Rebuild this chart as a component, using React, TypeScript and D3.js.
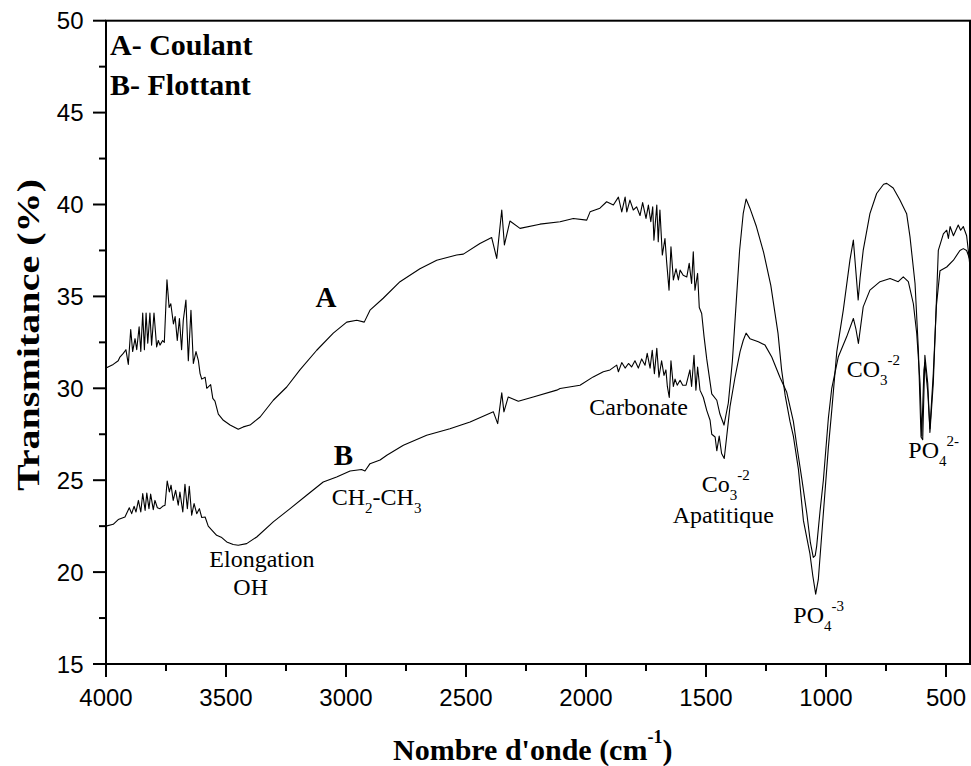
import React from "react";
import * as d3 from "d3";

// ---- Axis ticks ----
const xTicks = [4000, 3500, 3000, 2500, 2000, 1500, 1000, 500];
const xMinorTicks = [3750, 3250, 2750, 2250, 1750, 1250, 750];
const yTicks = [15, 20, 25, 30, 35, 40, 45, 50];
const yMinorTicks = [17.5, 22.5, 27.5, 32.5, 37.5, 42.5, 47.5];

// ---- Spectrum A (Coulant): [wavenumber cm-1, transmittance %] ----
const curveA: [number, number][] = [
  [4000, 31.1], [3970, 31.3], [3949, 31.5], [3942, 31.7], [3928, 31.9], [3917, 32.1],
  [3907, 31.3], [3897, 33.2], [3889, 32.0], [3879, 32.7], [3872, 32.1], [3862, 33.35],
  [3855, 32.0], [3847, 34.1], [3840, 32.1], [3833, 34.1], [3826, 32.45], [3817, 34.1],
  [3810, 32.35], [3800, 34.1], [3789, 32.25], [3782, 32.6], [3775, 32.35], [3764, 32.6],
  [3757, 32.5], [3746, 35.9], [3737, 34.4], [3730, 34.6], [3719, 33.5], [3712, 33.9],
  [3703, 32.6], [3694, 33.8], [3685, 32.1], [3678, 33.7], [3667, 34.8], [3657, 31.5],
  [3646, 34.25], [3636, 31.35], [3625, 32.0], [3615, 31.5], [3608, 30.8], [3601, 30.5],
  [3587, 30.6], [3580, 30.0], [3564, 30.2], [3555, 29.45], [3546, 29.3], [3532, 28.6],
  [3511, 28.26], [3483, 28.0], [3449, 27.77], [3428, 27.9], [3400, 28.0], [3358, 28.44],
  [3303, 29.35], [3247, 30.07], [3192, 31.0], [3122, 32.07], [3053, 33.0], [2997, 33.6],
  [2955, 33.7], [2924, 33.6], [2900, 34.25], [2845, 34.9], [2775, 35.8], [2692, 36.5],
  [2622, 36.97], [2539, 37.25], [2511, 37.3], [2442, 37.88], [2393, 38.2], [2372, 37.07],
  [2351, 39.7], [2340, 37.8], [2317, 39.1], [2275, 38.7], [2192, 38.93], [2108, 39.06],
  [2053, 39.24], [1997, 39.15], [1983, 39.6], [1942, 39.8], [1914, 40.15], [1886, 39.97],
  [1865, 40.4], [1851, 39.6], [1837, 40.4], [1830, 39.6], [1817, 40.24], [1803, 39.7],
  [1789, 39.87], [1775, 39.4], [1764, 40.1], [1750, 39.24], [1740, 39.97], [1730, 39.06],
  [1722, 39.87], [1717, 38.06], [1705, 39.97], [1699, 37.97], [1692, 39.7], [1682, 37.25],
  [1671, 38.15], [1664, 36.88], [1654, 35.34], [1646, 37.7], [1636, 35.9], [1625, 36.5],
  [1615, 35.9], [1608, 36.43], [1595, 36.15], [1580, 36.06], [1570, 36.8], [1560, 35.7],
  [1553, 37.43], [1546, 35.34], [1535, 36.25], [1528, 34.4], [1518, 34.07], [1508, 32.8],
  [1497, 31.6], [1476, 29.7], [1455, 29.35], [1442, 28.6], [1425, 28.0], [1407, 29.2],
  [1390, 31.5], [1375, 34.5], [1360, 37.5], [1345, 39.5], [1333, 40.3], [1317, 39.8],
  [1290, 38.8], [1260, 37.4], [1230, 35.6], [1200, 33.0], [1185, 31.0], [1170, 29.6],
  [1150, 28.2], [1136, 27.4], [1115, 25.6], [1094, 22.8], [1067, 21.0], [1055, 19.8],
  [1043, 18.8], [1032, 19.6], [1011, 23.2], [990, 26.8], [976, 28.8], [955, 32.0],
  [928, 34.25], [900, 37.0], [886, 38.06], [877, 36.6], [866, 34.8], [858, 36.0],
  [845, 37.5], [817, 39.5], [789, 40.6], [760, 41.1], [747, 41.15], [720, 40.9],
  [692, 40.24], [664, 39.5], [650, 38.24], [629, 35.7], [615, 32.07], [604, 27.35],
  [597, 27.2], [588, 31.8], [576, 30.26], [567, 27.6], [553, 30.26], [532, 37.5],
  [511, 38.4], [497, 38.6], [490, 38.15], [483, 38.8], [469, 38.3], [449, 38.88],
  [439, 38.6], [428, 38.8], [414, 38.3], [407, 37.5], [400, 36.6],
];

// ---- Spectrum B (Flottant) ----
const curveB: [number, number][] = [
  [4000, 22.5], [3970, 22.6], [3949, 22.86], [3921, 23.0], [3903, 23.5], [3893, 23.18],
  [3883, 23.58], [3875, 23.27], [3865, 23.9], [3855, 23.27], [3847, 24.27], [3837, 23.36],
  [3830, 24.3], [3821, 23.45], [3814, 24.24], [3803, 23.4], [3796, 23.9], [3786, 23.5],
  [3775, 23.45], [3764, 23.58], [3754, 23.64], [3745, 24.96], [3736, 24.36], [3729, 24.73],
  [3720, 23.9], [3710, 24.45], [3699, 23.64], [3692, 24.36], [3680, 23.27], [3671, 24.78],
  [3661, 23.45], [3653, 24.67], [3643, 23.1], [3633, 23.73], [3622, 23.18], [3611, 23.45],
  [3601, 22.97], [3587, 23.0], [3574, 22.5], [3560, 22.3], [3539, 22.0], [3520, 21.9],
  [3497, 21.64], [3470, 21.5], [3449, 21.46], [3414, 21.55], [3372, 21.91], [3303, 22.73],
  [3233, 23.45], [3164, 24.18], [3095, 24.9], [3039, 25.18], [2983, 25.5], [2935, 25.58],
  [2921, 25.5], [2900, 25.9], [2858, 26.1], [2830, 26.36], [2761, 26.9], [2664, 27.45],
  [2567, 27.8], [2483, 28.17], [2386, 28.72], [2368, 28.08], [2351, 29.75], [2342, 28.72],
  [2324, 29.53], [2282, 29.3], [2220, 29.53], [2122, 29.9], [2108, 29.99], [2025, 30.17],
  [1970, 30.62], [1928, 30.9], [1900, 31.0], [1872, 31.26], [1865, 30.9], [1851, 31.4],
  [1837, 31.1], [1823, 31.35], [1810, 31.16], [1796, 31.5], [1782, 31.1], [1768, 31.6],
  [1754, 31.26], [1745, 31.9], [1733, 31.1], [1724, 32.07], [1715, 30.8], [1705, 32.17],
  [1696, 30.6], [1685, 31.5], [1675, 30.7], [1667, 31.0], [1661, 30.1], [1653, 29.5],
  [1646, 31.5], [1636, 30.1], [1629, 30.5], [1620, 30.17], [1608, 30.44], [1597, 30.17],
  [1583, 30.17], [1567, 31.0], [1560, 30.1], [1550, 31.8], [1542, 29.9], [1535, 31.16],
  [1525, 29.9], [1511, 29.5], [1497, 28.8], [1483, 28.26], [1476, 27.5], [1462, 27.35],
  [1455, 26.6], [1445, 27.4], [1435, 26.45], [1424, 26.18], [1414, 27.35], [1400, 29.0],
  [1379, 30.6], [1358, 32.0], [1345, 32.6], [1333, 33.0], [1317, 32.7], [1282, 32.53],
  [1254, 32.35], [1226, 31.7], [1192, 30.6], [1164, 29.8], [1136, 28.2], [1122, 26.9],
  [1100, 25.0], [1080, 23.2], [1065, 21.6], [1053, 20.8], [1045, 20.9], [1039, 21.4],
  [1025, 23.3], [1011, 25.0], [990, 28.4], [976, 30.0], [949, 31.7], [914, 32.8],
  [886, 33.8], [875, 33.2], [865, 32.44], [845, 34.43], [817, 35.34], [775, 35.8],
  [733, 35.97], [699, 35.8], [678, 36.06], [657, 35.8], [636, 34.6], [622, 32.98],
  [608, 30.26], [601, 27.4], [592, 31.0], [588, 31.4], [576, 29.8], [567, 27.8],
  [553, 30.8], [540, 34.5], [525, 36.4], [497, 36.6], [469, 36.97], [442, 37.5],
  [428, 37.6], [414, 37.5], [400, 36.97],
];

const SERIF = "'Liberation Serif', 'Times New Roman', serif";
const SANS = "'Liberation Sans', Arial, sans-serif";

type Part = { t: string; sub?: boolean; sup?: boolean };

function Chem({ x, y, parts, size = 24 }: { x: number; y: number; parts: Part[]; size?: number }) {
  let level = 0;
  const small = Math.round(size * 0.62);
  return (
    <text x={x} y={y} fontFamily={SERIF} fontSize={size} fill="#000">
      {parts.map((p, i) => {
        const target = p.sub ? 8 : p.sup ? -12 : 0;
        const dy = target - level;
        level = target;
        return (
          <tspan key={i} dy={dy} fontSize={p.sub || p.sup ? small : size}>
            {p.t}
          </tspan>
        );
      })}
    </text>
  );
}

export default function App() {
  const W = 971;
  const H = 766;
  const left = 106, right = 970, top = 20.7, bottom = 664;
  const x = d3.scaleLinear().domain([4000, 400]).range([left, right]);
  const y = d3.scaleLinear().domain([15, 50]).range([bottom, top]);
  const line = d3
    .line<[number, number]>()
    .x((d) => x(d[0]))
    .y((d) => y(d[1]));

  return (
    <div style={{ position: "absolute", left: 0, top: 0 }}>
      <svg width={W} height={H} style={{ display: "block", background: "#fff" }}>
        {/* curves */}
        <path d={line(curveA) || ""} fill="none" stroke="#000" strokeWidth={1.1} strokeLinejoin="round" />
        <path d={line(curveB) || ""} fill="none" stroke="#000" strokeWidth={1.1} strokeLinejoin="round" />

        {/* frame */}
        <rect x={left} y={top} width={right - left} height={bottom - top} fill="none" stroke="#000" strokeWidth={2} />

        {/* x ticks */}
        {xTicks.map((t) => (
          <g key={"xt" + t}>
            <line x1={x(t)} x2={x(t)} y1={bottom} y2={bottom + 13} stroke="#000" strokeWidth={2} />
            <text x={x(t)} y={705.5} textAnchor="middle" fontFamily={SANS} fontSize={24} fill="#000">
              {t}
            </text>
          </g>
        ))}
        {xMinorTicks.map((t) => (
          <line key={"xm" + t} x1={x(t)} x2={x(t)} y1={bottom} y2={bottom + 7} stroke="#000" strokeWidth={2} />
        ))}

        {/* y ticks */}
        {yTicks.map((t) => (
          <g key={"yt" + t}>
            <line x1={left - 13} x2={left} y1={y(t)} y2={y(t)} stroke="#000" strokeWidth={2} />
            <text x={83.5} y={y(t) + 8.5} textAnchor="end" fontFamily={SANS} fontSize={24} fill="#000">
              {t}
            </text>
          </g>
        ))}
        {yMinorTicks.map((t) => (
          <line key={"ym" + t} x1={left - 7} x2={left} y1={y(t)} y2={y(t)} stroke="#000" strokeWidth={2} />
        ))}

        {/* axis titles */}
        <text x={393} y={760} fontFamily={SERIF} fontWeight="bold" fontSize={30} fill="#000">
          Nombre d'onde (cm
          <tspan dy={-17} fontSize={18}>-1</tspan>
          <tspan dy={17}>)</tspan>
        </text>
        <text
          transform="translate(39,335) rotate(-90)"
          textAnchor="middle"
          fontFamily={SERIF}
          fontWeight="bold"
          fontSize={32}
          textLength={312}
          lengthAdjust="spacingAndGlyphs"
          fill="#000"
        >
          Transmitance (%)
        </text>

        {/* legend text */}
        <text x={110} y={55} fontFamily={SERIF} fontWeight="bold" fontSize={30} fill="#000">A- Coulant</text>
        <text x={110} y={95} fontFamily={SERIF} fontWeight="bold" fontSize={30} fill="#000">B- Flottant</text>

        {/* curve labels */}
        <text x={326} y={307} textAnchor="middle" fontFamily={SERIF} fontWeight="bold" fontSize={29} fill="#000">A</text>
        <text x={343.5} y={465} textAnchor="middle" fontFamily={SERIF} fontWeight="bold" fontSize={29} fill="#000">B</text>

        {/* annotations */}
        <text x={209.3} y={566.7} fontFamily={SERIF} fontSize={24} fill="#000">Elongation</text>
        <text x={233.3} y={595} fontFamily={SERIF} fontSize={24} fill="#000">OH</text>
        <Chem x={331.7} y={505} parts={[{ t: "CH" }, { t: "2", sub: true }, { t: "-CH" }, { t: "3", sub: true }]} />
        <text x={589.3} y={415} fontFamily={SERIF} fontSize={24} fill="#000">Carbonate</text>
        <Chem x={701.7} y={491.7} parts={[{ t: "Co" }, { t: "3", sub: true }, { t: "-2", sup: true }]} />
        <text x={672.7} y={523.3} fontFamily={SERIF} fontSize={24} fill="#000">Apatitique</text>
        <Chem x={793.3} y={623.3} parts={[{ t: "PO" }, { t: "4", sub: true }, { t: "-3", sup: true }]} />
        <Chem x={846.7} y={376.7} parts={[{ t: "CO" }, { t: "3", sub: true }, { t: "-2", sup: true }]} />
        <Chem x={908.3} y={458.3} parts={[{ t: "PO" }, { t: "4", sub: true }, { t: "2-", sup: true }]} />
      </svg>
    </div>
  );
}
